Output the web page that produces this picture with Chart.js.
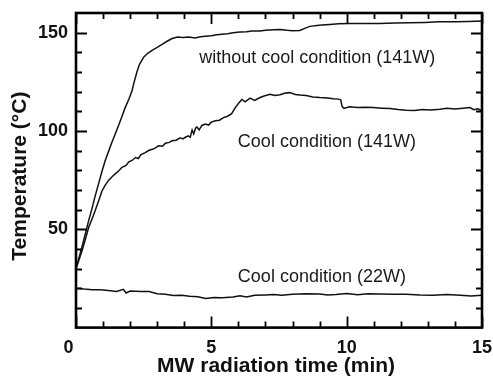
<!DOCTYPE html>
<html>
<head>
<meta charset="utf-8">
<script src="https://cdn.jsdelivr.net/npm/chart.js@4/dist/chart.umd.min.js"></script>
<style>
  html, body { margin: 0; padding: 0; background: #ffffff; }
  canvas { display: block; }
</style>
</head>
<body>
<canvas id="c" width="493" height="382"></canvas>
<script>
// ---- data ----
const timeHot = [0,0.1,0.22,0.35,0.47,0.6,0.71,0.85,0.96,1.08,1.2,1.32,1.45,1.58,1.7,1.82,1.95,2.07,2.15,2.25,2.35,2.5,2.65,2.81,3.0,3.18,3.35,3.55,3.75,3.95,4.16,4.4,4.6,4.78,5.0,5.2,5.39,5.6,5.8,6.06,6.3,6.5,6.8,7.0,7.3,7.54,7.8,8.0,8.27,8.45,8.64,8.9,9.1,9.38,9.7,10.1,10.5,11.2,11.8,12.3,12.9,13.4,14.0,14.5,15];
const tempHot = [30,35,41,48,54.5,61,67,74,79.5,85,89.5,94,98.5,103,107.5,112,116,120.5,125,130,134,137.5,139.5,141,142.5,144,145.5,147,147.8,147.5,147.8,147.3,147.9,148.2,148.4,148.9,149.2,149.5,150,150.3,150.5,150.9,150.8,151.2,151.5,151.6,151.2,151,151.1,152.2,153.2,153.6,153.9,154.2,154.5,154.7,154.6,154.7,154.9,155,155.2,155.5,155.6,155.7,155.9];

const timeCool141 = [0,0.1,0.22,0.35,0.47,0.6,0.71,0.85,0.96,1.08,1.21,1.35,1.45,1.58,1.7,1.85,1.95,2.07,2.2,2.3,2.4,2.56,2.7,2.85,2.95,3.05,3.2,3.3,3.45,3.55,3.7,3.85,3.95,4.04,4.15,4.22,4.29,4.35,4.42,4.47,4.55,4.65,4.78,4.9,5.0,5.15,5.3,5.45,5.6,5.75,5.89,6.0,6.13,6.25,6.43,6.6,6.8,6.95,7.17,7.35,7.54,7.7,7.9,8.1,8.27,8.5,8.75,9.01,9.3,9.5,9.7,9.78,9.83,9.9,10.1,10.4,10.7,10.98,11.3,11.6,11.9,12.2,12.5,12.8,13.1,13.45,13.7,14.0,14.3,14.55,14.7,14.85,15];
const tempCool141 = [30,34,39,45,51,55.5,59.5,65,69.5,72.5,75,77,78.2,79.8,81.5,82.5,84.3,85,86.5,86,88,89,90.2,90.8,91.5,92.5,92.2,93.8,94.2,95,95.3,96.5,96,96.8,97.5,96.8,100.5,98.5,101.5,102,100.5,102.8,103.5,103,104.5,105.2,105.5,106.8,107.5,108.8,112,114,116,114.8,116.7,115.5,117,117.8,118.7,118,118.4,119.2,119.5,118.6,118.3,118,117.3,117,116.8,116.4,116.2,115.8,112.5,111.5,112.3,112,112.1,111.9,111.6,111.4,110.9,110.6,110.4,110.9,110.7,111.1,111.5,111.2,111.6,111.9,110.8,111.3,110.2];

const timeCool22 = [0,0.3,0.6,0.9,1.2,1.5,1.75,1.85,2.0,2.4,2.7,3.0,3.3,3.6,3.9,4.2,4.5,4.8,5.1,5.4,5.8,6.06,6.3,6.6,7.0,7.3,7.6,8.0,8.5,9.0,9.3,9.6,10.0,10.4,10.8,11.2,11.7,12.2,12.7,13.2,13.7,14.2,14.6,15];
const tempCool22 = [20,19.6,19.3,19.2,18.9,18.4,19.5,17.6,18.6,18.4,18.3,17.2,17,16.3,16.4,16,15.7,14.8,15.3,15.2,15.6,16.2,15.6,16.4,16.6,16.8,16.5,16.9,17.2,17.1,16.6,16.8,17.3,16.7,17.2,17.1,16.9,17,16.6,16.4,16.8,16.5,16.1,16.4];

const seriesNames = ['without cool condition (141W)', 'Cool condition (141W)', 'Cool condition (22W)'];
// label anchor points in data units (left x, baseline y)
const labelX = [4.55, 5.98, 5.98];
const labelY = [134.5, 92, 23.1];

const xTicks = [0, 5, 10, 15];
const yTicks = [50, 100, 150];
const xTitle = 'MW radiation time (min)';
const yTitle = 'Temperature (°C)';

// ---- chart ----
const FONT = "'Liberation Sans', Arial, Helvetica, sans-serif";
const toPts = (xs, ys) => xs.map((x, i) => ({x: x, y: ys[i]}));

const frameAndTicks = {
  id: 'frameAndTicks',
  afterDraw(chart) {
    const {ctx, chartArea: a, scales} = chart;
    const xs = scales.x, ys = scales.y;
    ctx.save();
    ctx.strokeStyle = '#000';
    ctx.lineCap = 'butt';
    // minor ticks
    ctx.lineWidth = 1.8;
    ctx.beginPath();
    for (let v = 1; v < 15; v++) {
      if (xTicks.includes(v)) continue;
      const px = Math.round(xs.getPixelForValue(v)) + 0.5;
      ctx.moveTo(px, a.bottom); ctx.lineTo(px, a.bottom - 6);
      ctx.moveTo(px, a.top); ctx.lineTo(px, a.top + 6);
    }
    for (let v = 10; v < 160; v += 10) {
      if (yTicks.includes(v)) continue;
      const py = Math.round(ys.getPixelForValue(v)) + 0.5;
      ctx.moveTo(a.left, py); ctx.lineTo(a.left + 6, py);
      ctx.moveTo(a.right, py); ctx.lineTo(a.right - 6, py);
    }
    ctx.stroke();
    // major ticks
    ctx.beginPath();
    xTicks.forEach(v => {
      const px = Math.round(xs.getPixelForValue(v)) + 0.5;
      ctx.moveTo(px, a.bottom); ctx.lineTo(px, a.bottom - 11);
      ctx.moveTo(px, a.top); ctx.lineTo(px, a.top + 11);
    });
    yTicks.forEach(v => {
      const py = Math.round(ys.getPixelForValue(v)) + 0.5;
      ctx.moveTo(a.left, py); ctx.lineTo(a.left + 11, py);
      ctx.moveTo(a.right, py); ctx.lineTo(a.right - 11, py);
    });
    ctx.stroke();
    // frame
    ctx.lineWidth = 2.6;
    ctx.strokeRect(a.left, a.top, a.right - a.left, a.bottom - a.top);
    // series labels
    ctx.fillStyle = '#1a1a1a';
    ctx.font = '18px ' + FONT;
    ctx.textAlign = 'left';
    ctx.textBaseline = 'alphabetic';
    seriesNames.forEach((s, i) => {
      ctx.fillText(s, xs.getPixelForValue(labelX[i]), ys.getPixelForValue(labelY[i]));
    });
    ctx.restore();
  }
};

const zeroPad = s => { s.paddingLeft = 0; s.paddingRight = 0; s.paddingTop = 0; s.paddingBottom = 0; };

const lineStyle = {borderColor: '#111', borderWidth: 1.5, pointRadius: 0, tension: 0, fill: false};

new Chart(document.getElementById('c'), {
  type: 'line',
  data: {
    datasets: [
      Object.assign({label: seriesNames[0], data: toPts(timeHot, tempHot)}, lineStyle),
      Object.assign({label: seriesNames[1], data: toPts(timeCool141, tempCool141)}, lineStyle),
      Object.assign({label: seriesNames[2], data: toPts(timeCool22, tempCool22)}, lineStyle)
    ]
  },
  options: {
    responsive: false,
    animation: false,
    devicePixelRatio: 1,
    layout: {padding: {left: 0, right: 11, top: 13, bottom: 0}},
    plugins: {legend: {display: false}, tooltip: {enabled: false}},
    scales: {
      x: {
        type: 'linear', min: 0, max: 15,
        grid: {display: false}, border: {display: false},
        afterBuildTicks: s => { s.ticks = xTicks.map(v => ({value: v})); },
        ticks: {
          color: '#111', padding: 2, maxRotation: 0, autoSkip: false,
          font: {family: FONT, size: 18, weight: 'bold'},
          callback: v => (v === 0 ? '0   ' : String(v))
        },
        title: {display: true, text: xTitle + ' ', color: '#111',
          font: {family: FONT, size: 21, weight: 'bold'}, padding: {top: 0, bottom: 3}},
        afterFit: s => { s.height = 54.4; zeroPad(s); }
      },
      y: {
        type: 'linear', min: 0, max: 160,
        grid: {display: false}, border: {display: false},
        afterBuildTicks: s => { s.ticks = yTicks.map(v => ({value: v})); },
        ticks: {
          color: '#111', padding: 0, autoSkip: false,
          font: {family: FONT, size: 18, weight: 'bold'}
        },
        title: {display: true, text: yTitle + '  ', color: '#111',
          font: {family: FONT, size: 21, weight: 'bold'}, padding: {top: 8, bottom: 0}},
        afterFit: s => { s.width = 76; zeroPad(s); }
      }
    }
  },
  plugins: [frameAndTicks]
});
</script>
</body>
</html>
